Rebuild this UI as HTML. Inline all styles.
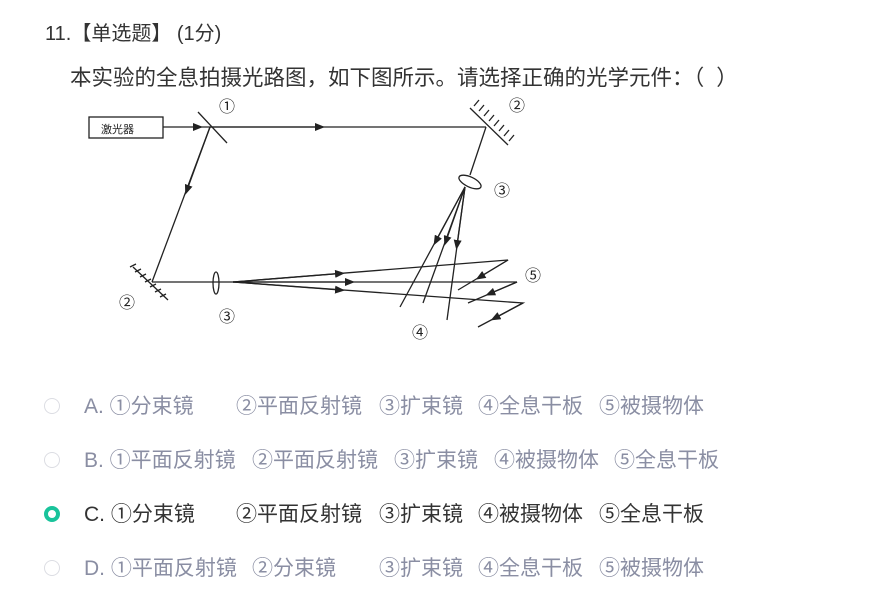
<!DOCTYPE html>
<html><head><meta charset="utf-8"><style>
body{margin:0;width:895px;height:608px;background:#fff;font-family:"Liberation Sans","Noto Sans CJK SC",sans-serif;position:relative;overflow:hidden}
.t{position:absolute;white-space:pre;}
.o{position:absolute;font-size:21px;color:#8a8ea3;white-space:pre}
.d{color:#333}
.r{position:absolute;left:44px;width:16px;height:16px;border:1.5px solid #dcdde3;border-radius:50%;box-sizing:border-box}
</style></head><body>
<div class="t" style="left:45px;top:17px;font-size:20px;color:#333">11.【单选题】 (1分)</div>
<div class="t" style="left:70px;top:61px;font-size:21.5px;color:#333">本实验的全息拍摄光路图，如下图所示。请选择正确的光学元件：（  ）</div>
<svg style="position:absolute;left:0;top:0" width="895" height="360" font-family="Liberation Sans,Noto Sans CJK SC,sans-serif">
<defs><marker id="a" markerWidth="10" markerHeight="8" refX="5" refY="4" orient="auto" markerUnits="userSpaceOnUse"><path d="M0,0L10,4L0,8z" fill="#222"/></marker></defs>
<g stroke="#222" stroke-width="1.3" fill="none">
<rect x="89" y="117" width="74" height="21"/>
<path d="M163,127L198,127" marker-end="url(#a)"/><line x1="198" y1="127" x2="486" y2="127"/>
<path d="M210,127L320,127" marker-end="url(#a)"/>
<line x1="198" y1="112" x2="227" y2="143"/>
<line x1="470" y1="108" x2="508" y2="145"/>
<path d="M474,106l5,-6M479,111l5,-6M484,116l5,-6M489,121l5,-6M494,126l5,-6M499,131l5,-6M504,136l5,-6M509,141l5,-6"/>
<line x1="486" y1="127" x2="470" y2="175"/>
<ellipse cx="470" cy="182" rx="12" ry="5" transform="rotate(25 470 182)"/>
<line x1="465" y1="187" x2="400" y2="307"/><path d="M465,187L436,241" marker-end="url(#a)"/>
<line x1="465" y1="187" x2="423" y2="303"/><path d="M465,187L446,241" marker-end="url(#a)"/>
<line x1="465" y1="187" x2="447" y2="320"/><path d="M465,187L457,245" marker-end="url(#a)"/>
<path d="M210,127L152,282"/><path d="M210,127L187,190" marker-end="url(#a)"/>
<line x1="133" y1="267" x2="168" y2="300"/>
<path d="M136,264l-6,3M141,269l-6,3M146,274l-6,3M151,279l-6,3M156,284l-6,3M161,289l-6,3M166,294l-6,3"/>
<line x1="152" y1="282" x2="517" y2="282"/>
<ellipse cx="216" cy="283" rx="3" ry="11"/>
<polyline points="233,282 508,260 458,290"/><path d="M233,282L340,273.5" marker-end="url(#a)"/><path d="M508,260L480,277" marker-end="url(#a)"/>
<path d="M233,282L350,282" marker-end="url(#a)"/>
<polyline points="517,282 468,303"/><path d="M517,282L490,293.5" marker-end="url(#a)"/>
<polyline points="233,282 523,303 478,327"/><path d="M233,282L340,290" marker-end="url(#a)"/><path d="M523,303L495,318" marker-end="url(#a)"/>
</g>
<g font-size="16" fill="#222">
<text x="101" y="133" font-size="11">激光器</text>
<text x="219" y="112">①</text><text x="509" y="111">②</text><text x="494" y="196">③</text>
<text x="119" y="308">②</text><text x="219" y="322">③</text><text x="525" y="281">⑤</text><text x="412" y="338">④</text>
</g></svg>

<div class="r" style="top:398px"></div>
<div class="o" style="top:390px;left:84px">A. ①分束镜</div><div class="o" style="top:390px;left:236px">②平面反射镜</div><div class="o" style="top:390px;left:379px">③扩束镜</div><div class="o" style="top:390px;left:478px">④全息干板</div><div class="o" style="top:390px;left:599px">⑤被摄物体</div>

<div class="r" style="top:452px"></div>
<div class="o" style="top:444px;left:84px">B. ①平面反射镜</div><div class="o" style="top:444px;left:252px">②平面反射镜</div><div class="o" style="top:444px;left:394px">③扩束镜</div><div class="o" style="top:444px;left:494px">④被摄物体</div><div class="o" style="top:444px;left:614px">⑤全息干板</div>

<div class="r" style="top:506px;border:4px solid #19c39b"></div>
<div class="o d" style="top:498px;left:84px">C. ①分束镜</div><div class="o d" style="top:498px;left:236px">②平面反射镜</div><div class="o d" style="top:498px;left:379px">③扩束镜</div><div class="o d" style="top:498px;left:478px">④被摄物体</div><div class="o d" style="top:498px;left:599px">⑤全息干板</div>

<div class="r" style="top:560px"></div>
<div class="o" style="top:552px;left:84px">D. ①平面反射镜</div><div class="o" style="top:552px;left:252px">②分束镜</div><div class="o" style="top:552px;left:379px">③扩束镜</div><div class="o" style="top:552px;left:478px">④全息干板</div><div class="o" style="top:552px;left:599px">⑤被摄物体</div>
</body></html>
